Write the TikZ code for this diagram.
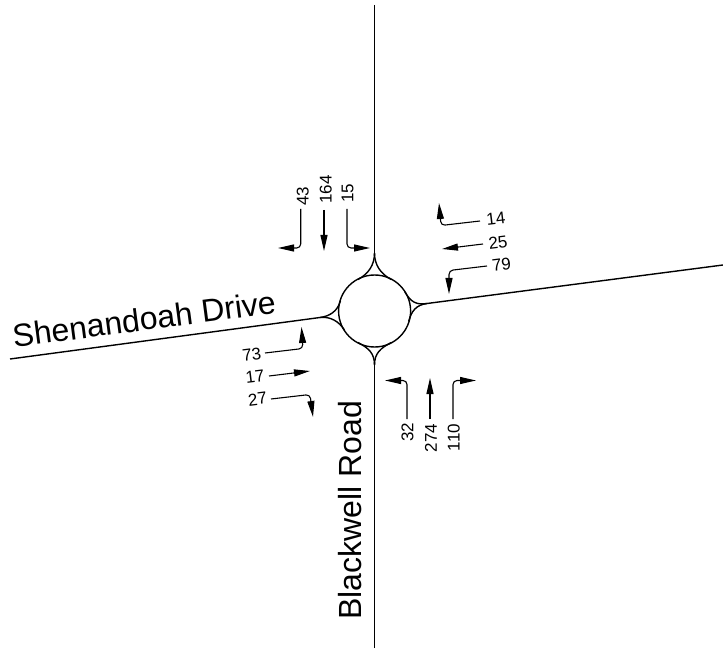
\documentclass[tikz,border=0pt]{standalone}
\usepackage{fontspec}
\setmainfont{Liberation Sans}
\usetikzlibrary{arrows.meta}
\tikzset{
  road/.style={line width=1.4pt,black},
  move/.style={line width=1.1pt,black,rounded corners=4pt,-{Triangle[length=16pt,width=7pt]}},
  vol/.style={font=\fontsize{17}{17}\selectfont,inner sep=0pt},
  roadname/.style={font=\fontsize{32}{32}\selectfont,inner sep=0pt}
}
\begin{document}
\begin{tikzpicture}[x=1pt,y=-1pt]
\useasboundingbox (0,0) rectangle (723,652);
% roundabout
\node[road,draw,circle,minimum size=72pt,inner sep=0pt] (rab) at (374.6,311) {};
\coordinate (ntop) at (374.5,5);
\coordinate (nend) at (374.5,253);
\coordinate (stop) at (374.5,648);
\coordinate (send) at (374.5,365);
\coordinate (wtop) at (10,359);
\coordinate (wend) at (320,317.5);
\coordinate (etop) at (723,265);
\coordinate (eend) at (427,303.5);
\draw[road] (ntop) -- (nend);
\draw[road] (stop) -- (send);
\draw[road] (wtop) -- (wend);
\draw[road] (etop) -- (eend);
% fillets
\draw[road] (nend) .. controls (374.5,265) and (380.7,273.9) .. (391.3,279.5);
\draw[road] (nend) .. controls (374.5,265) and (368.5,273.9) .. (357.9,279.5);
\draw[road] (send) .. controls (374.5,353) and (380.7,348.1) .. (391.3,342.5);
\draw[road] (send) .. controls (374.5,353) and (368.5,348.1) .. (357.9,342.5);
\draw[road] (eend) .. controls (416,305) and (411.3,302.3) .. (404.9,292.1);
\draw[road] (eend) .. controls (416,305) and (411.5,311) .. (408.7,321.4);
\draw[road] (wend) .. controls (330,316.2) and (337.7,311) .. (340.5,300.6);
\draw[road] (wend) .. controls (330,316.2) and (339.1,321.4) .. (344.3,329.9);
% southbound
\coordinate (a1) at (300.7,209); \coordinate (a1m) at (300.7,248); \coordinate (a1e) at (278,248);
\coordinate (a2) at (324,210); \coordinate (a2e) at (324,251);
\coordinate (a3) at (347,209); \coordinate (a3m) at (347,248); \coordinate (a3e) at (370,248);
\draw[move] (a1) -- (a1m) -- (a1e);
\draw[move] (a2) -- (a2e);
\draw[move] (a3) -- (a3m) -- (a3e);
\node[vol,rotate=90] (n43) at (302.7,196) {43};
\node[vol,rotate=90] (n164) at (325.7,189.7) {164};
\node[vol,rotate=90] (n15) at (347.5,193) {15};
% westbound
\coordinate (b1) at (480,221); \coordinate (b1m) at (441,225.5); \coordinate (b1e) at (439,203);
\coordinate (b2) at (483,244); \coordinate (b2e) at (442,249);
\coordinate (b3) at (487,266); \coordinate (b3m) at (449,270.5); \coordinate (b3e) at (449,294);
\draw[move] (b1) -- (b1m) -- (b1e);
\draw[move] (b2) -- (b2e);
\draw[move] (b3) -- (b3m) -- (b3e);
\node[vol,rotate=7] (n14) at (495.8,219) {14};
\node[vol,rotate=7] (n25) at (498,242.5) {25};
\node[vol,rotate=7] (n79) at (501.5,265) {79};
% eastbound
\coordinate (c1) at (265,353); \coordinate (c1m) at (303,348.5); \coordinate (c1e) at (301.5,327);
\coordinate (c2) at (269,376); \coordinate (c2e) at (310,371);
\coordinate (c3) at (271,399); \coordinate (c3m) at (310,394.5); \coordinate (c3e) at (313,417);
\draw[move] (c1) -- (c1m) -- (c1e);
\draw[move] (c2) -- (c2e);
\draw[move] (c3) -- (c3m) -- (c3e);
\node[vol,rotate=7] (n73) at (251.7,355) {73};
\node[vol,rotate=7] (n17) at (255,377) {17};
\node[vol,rotate=7] (n27) at (257.5,399) {27};
% northbound
\coordinate (d1) at (407,419); \coordinate (d1m) at (407,380.5); \coordinate (d1e) at (385,380.5);
\coordinate (d2) at (430,419); \coordinate (d2e) at (430,378);
\coordinate (d3) at (453,419); \coordinate (d3m) at (453,380.5); \coordinate (d3e) at (476,380.5);
\draw[move] (d1) -- (d1m) -- (d1e);
\draw[move] (d2) -- (d2e);
\draw[move] (d3) -- (d3m) -- (d3e);
\node[vol,rotate=90] (n32) at (407.5,432) {32};
\node[vol,rotate=90] (n274) at (431,438) {274};
\node[vol,rotate=90] (n110) at (453.7,437.5) {110};
% names
\node[roadname,rotate=7.5] (shen) at (144,319) {Shenandoah Drive};
\node[roadname,rotate=90] (black) at (350,510.5) {Blackwell Road};
\end{tikzpicture}
\end{document}
